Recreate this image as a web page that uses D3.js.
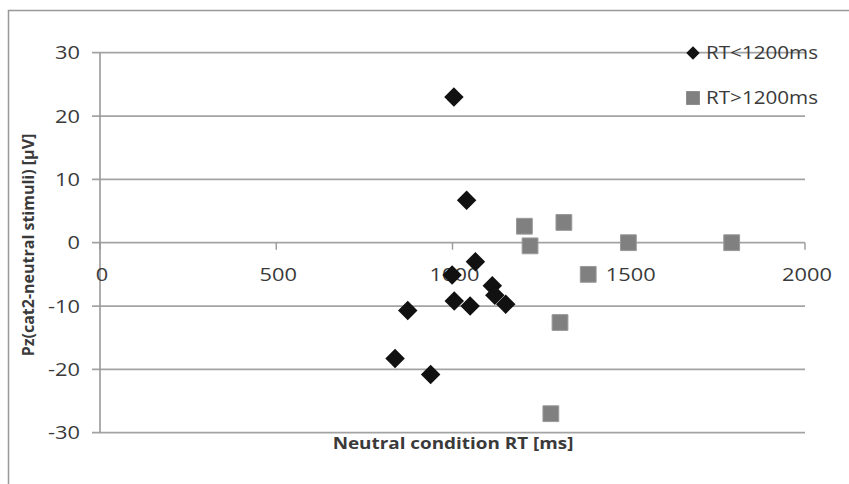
<!DOCTYPE html>
<html>
<head>
<meta charset="utf-8">
<script src="https://cdn.jsdelivr.net/npm/d3@7"></script>
<style>
  body { margin: 0; background: #fff; }
  text { font-family: "Open Sans", "Liberation Sans", sans-serif; fill: #3a3a3a; }
  .tick-label { font-size: 18.5px; }
  .axis-title { font-size: 16px; font-weight: bold; }
  .legend-text { font-size: 17.5px; }
</style>
</head>
<body>
<div id="chart"></div>
<script>
// data
var fastRT  = [1004, 1040, 1065, 999, 1005, 1050, 873, 1113, 1120, 1151, 837, 938];
var fastAmp = [23.0, 6.7, -3.0, -5.1, -9.2, -10.0, -10.7, -6.8, -8.3, -9.7, -18.3, -20.8];
var slowRT  = [1204, 1316, 1220, 1499, 1792, 1385, 1305, 1279];
var slowAmp = [2.6, 3.2, -0.5, 0.0, 0.0, -5.0, -12.6, -27.0];

var xTicks = [0, 500, 1000, 1500, 2000];
var yTicks = [-30, -20, -10, 0, 10, 20, 30];
var seriesNames = ["RT<1200ms", "RT>1200ms"];

var width = 849, height = 484;
var stretch = 1.18; //the picture's text is a bit wide

var svg = d3.select("#chart").append("svg")
	.attr("width", width)
	.attr("height", height);

function place(tx, ty) {
	return "translate(" + tx + "," + ty + ") scale(" + stretch + ",1)";
}

//outer frame
svg.append("rect")
	.attr("x", 8.5).attr("y", 10.5)
	.attr("width", 860).attr("height", 500)
	.style("fill", "none")
	.style("stroke", "#999")
	.style("stroke-width", 1.5);

var x = d3.scaleLinear().domain([0, 2000]).range([100, 805]);
var y = d3.scaleLinear().domain([-30, 30]).range([432.7, 52.7]);

///////////////////////////// gridlines ///////////////////////////////
svg.selectAll(".grid")
	.data(yTicks)
	.enter().append("line")
	.attr("x1", x(0) - 8).attr("x2", x(2000))
	.attr("y1", function(d) { return y(d); })
	.attr("y2", function(d) { return y(d); })
	.style("stroke", "#a3a3a3")
	.style("stroke-width", 1.8);

//y axis line
svg.append("line")
	.attr("x1", x(0)).attr("x2", x(0))
	.attr("y1", y(30)).attr("y2", y(-30))
	.style("stroke", "#999")
	.style("stroke-width", 1.6);

//x axis ticks hang down from the zero line
svg.selectAll(".xtick")
	.data(xTicks)
	.enter().append("line")
	.attr("x1", function(d) { return x(d); })
	.attr("x2", function(d) { return x(d); })
	.attr("y1", y(0)).attr("y2", y(0) + 7)
	.style("stroke", "#999")
	.style("stroke-width", 1.4);

svg.selectAll(".ylabel")
	.data(yTicks)
	.enter().append("text")
	.attr("class", "tick-label")
	.attr("transform", function(d) { return place(80, y(d)); })
	.attr("dy", "0.35em")
	.attr("text-anchor", "end")
	.text(function(d) { return d; });

svg.selectAll(".xlabel")
	.data(xTicks)
	.enter().append("text")
	.attr("class", "tick-label")
	.attr("transform", function(d) { return place(x(d) + 2, y(0) + 38); })
	.attr("text-anchor", "middle")
	.text(function(d) { return d; });

//axis titles
svg.append("text")
	.attr("class", "axis-title")
	.attr("transform", place(453, 449))
	.attr("text-anchor", "middle")
	.text("Neutral condition RT  [ms]");

svg.append("text")
	.attr("class", "axis-title")
	.attr("transform", "translate(34,245) rotate(-90)")
	.attr("text-anchor", "middle")
	.text("Pz(cat2-neutral stimuli) [\u03bcV]");

///////////////////////////// points ///////////////////////////////
var diamond = d3.symbol().type(d3.symbolSquare).size(190);
var square = d3.symbol().type(d3.symbolSquare).size(250);

svg.selectAll(".slow")
	.data(d3.range(slowRT.length))
	.enter().append("path")
	.attr("d", square)
	.attr("transform", function(i) { return "translate(" + x(slowRT[i]) + "," + y(slowAmp[i]) + ")"; })
	.style("fill", "#808080")
	.style("stroke", "#9a9a9a")
	.style("stroke-width", 1);

svg.selectAll(".fast")
	.data(d3.range(fastRT.length))
	.enter().append("path")
	.attr("d", diamond)
	.attr("transform", function(i) { return "translate(" + x(fastRT[i]) + "," + y(fastAmp[i]) + ") rotate(45)"; })
	.style("fill", "#111");

///////////////////////////// legend ///////////////////////////////
svg.append("path")
	.attr("d", d3.symbol().type(d3.symbolSquare).size(90))
	.attr("transform", "translate(693,53) rotate(45)")
	.style("fill", "#111");
svg.append("path")
	.attr("d", d3.symbol().type(d3.symbolSquare).size(190))
	.attr("transform", "translate(693,98)")
	.style("fill", "#808080");

svg.selectAll(".legend-text")
	.data(seriesNames)
	.enter().append("text")
	.attr("class", "legend-text")
	.attr("transform", function(d, i) { return place(706, 53 + i * 45); })
	.attr("dy", "0.35em")
	.text(function(d) { return d; });
</script>
</body>
</html>
